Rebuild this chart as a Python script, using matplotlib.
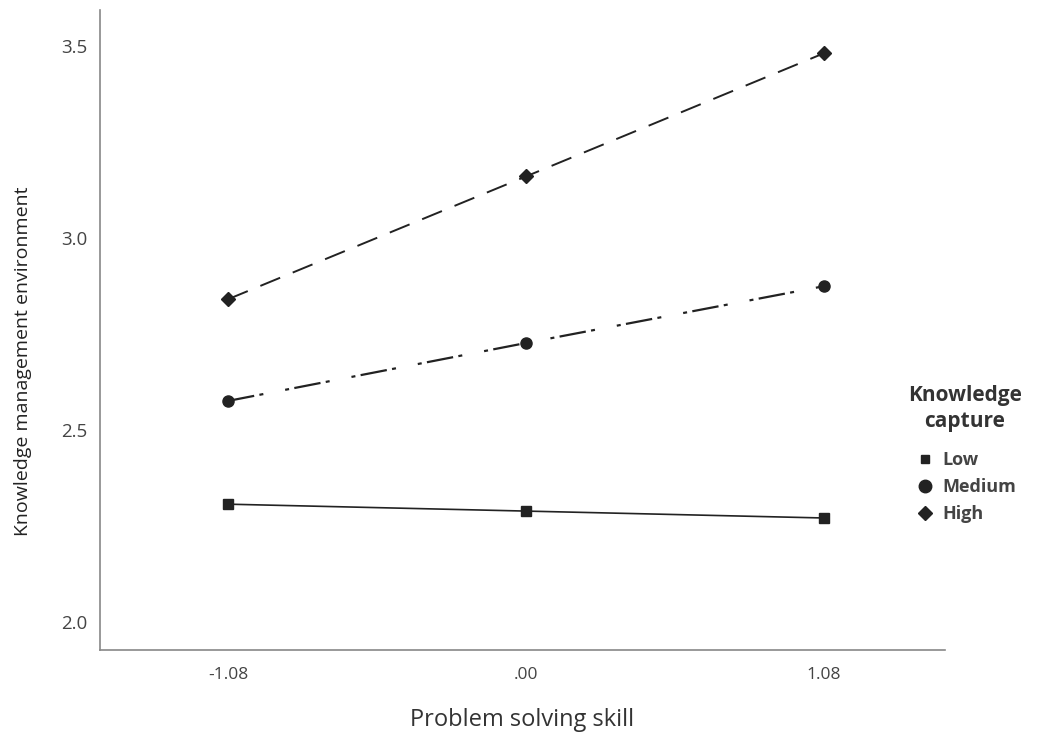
import matplotlib.pyplot as plt
from matplotlib.lines import Line2D

x_vals = [-1.08, 0.0, 1.08]
x_labels = ['-1.08', '.00', '1.08']
groups = ['Low', 'Medium', 'High']
low = [2.307, 2.289, 2.271]
medium = [2.576, 2.727, 2.875]
high = [2.841, 3.161, 3.482]
y_ticks = [2.0, 2.5, 3.0, 3.5]

plt.rcParams['font.family'] = ['Open Sans', 'DejaVu Sans']

fig = plt.figure(figsize=(10.37, 7.32), dpi=100)
ax = fig.add_axes([0.0964, 0.112, 0.815, 0.874])

col = '#222222'
ax.plot(x_vals, low, '-', color=col, lw=1.2, marker='s', ms=7)
ax.plot(x_vals, medium, color=col, lw=1.6, marker='o', ms=8,
        dashes=[12, 2.4, 1.8, 10, 1.8, 2.4])
ax.plot(x_vals, high, color=col, lw=1.4, marker='D', ms=7,
        dashes=[11, 7])

ax.set_xlim(-1.544, 1.519)
ax.set_ylim(1.927, 3.594)
ax.set_xticks(x_vals)
ax.set_xticklabels(x_labels)
ax.set_yticks(y_ticks)
ax.set_yticklabels(['%.1f' % v for v in y_ticks])
ax.tick_params(axis='x', length=0, labelsize=12.5, colors='#444444', pad=12)
ax.tick_params(axis='y', length=0, labelsize=13.5, colors='#444444', pad=9)

for s in ['top', 'right']:
    ax.spines[s].set_visible(False)
for s in ['left', 'bottom']:
    ax.spines[s].set_color('#888888')
    ax.spines[s].set_linewidth(1.2)

ax.set_xlabel('Problem solving skill', fontsize=17, color='#333333', labelpad=18)
ax.set_ylabel('Knowledge management environment', fontsize=14, color='#222222')
ax.yaxis.set_label_coords(-0.08, 0.452)

handles = [Line2D([], [], ls='none', marker=m, color=col, ms=s)
           for m, s in zip(['s', 'o', 'D'], [6, 9, 7])]
leg = fig.legend(handles, groups, title='Knowledge\ncapture', loc='upper left',
                 bbox_to_anchor=(0.86, 0.496), frameon=False, fontsize=13,
                 handletextpad=0.35, labelspacing=0.5, handlelength=1.2)
leg.get_title().set_fontweight('bold')
leg.get_title().set_fontsize(15)
leg.get_title().set_color('#333333')
leg.get_title().set_ha('center')
leg.get_title().set_linespacing(1.3)
leg._legend_box.sep = 14
for t in leg.get_texts():
    t.set_fontweight('bold')
    t.set_color('#444444')

fig.savefig('out.png', dpi=100)
